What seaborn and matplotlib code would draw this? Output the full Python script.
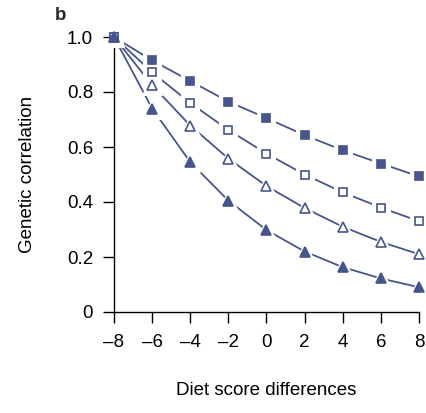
import matplotlib
matplotlib.use("Agg")
import matplotlib.pyplot as plt
import seaborn as sns
import pandas as pd

sns.set_style("ticks")
plt.rcParams['font.family'] = ['Liberation Sans', 'DejaVu Sans']
plt.rcParams.update({
    'xtick.color': 'black', 'ytick.color': 'black',
    'xtick.labelcolor': 'black', 'ytick.labelcolor': 'black',
    'xtick.labelsize': 13.5, 'ytick.labelsize': 13.5,
    'axes.edgecolor': 'black', 'axes.linewidth': 1.0,
    'axes.labelcolor': 'black',
})

x_vals = [-8, -6, -4, -2, 0, 2, 4, 6, 8]
filled_square = [1.0, 0.915, 0.84, 0.765, 0.705, 0.643, 0.588, 0.540, 0.493]
open_square = [1.0, 0.872, 0.760, 0.662, 0.576, 0.500, 0.435, 0.380, 0.330]
open_triangle = [1.0, 0.825, 0.678, 0.558, 0.458, 0.378, 0.310, 0.255, 0.210]
filled_triangle = [1.0, 0.740, 0.545, 0.405, 0.298, 0.220, 0.163, 0.122, 0.090]

yticks = [0, 0.2, 0.4, 0.6, 0.8, 1.0]
ytick_labels = ["0", "0.2", "0.4", "0.6", "0.8", "1.0"]
xtick_labels = ["\u20138", "\u20136", "\u20134", "\u20132", "0", "2", "4", "6", "8"]

color = "#46558c"
series = [
    (filled_square, "s", color, 5.6),
    (open_square, "s", "white", 6.0),
    (open_triangle, "^", "white", 7.2),
    (filled_triangle, "^", color, 7.0),
]

DPI = 100
fig = plt.figure(figsize=(4.27, 4.13), dpi=DPI)
ax = fig.add_axes([114/427, 1-312/413, (419-114)/427, (312-37)/413])

for vals, mk, fc, ms in series:
    df = pd.DataFrame({"x": x_vals, "y": vals})
    sns.lineplot(data=df, x="x", y="y", ax=ax, color=color, lw=1.3, zorder=2, clip_on=False)
    sns.lineplot(data=df, x="x", y="y", ax=ax, linestyle="", marker=mk, markersize=ms + 7,
                 markerfacecolor="white", markeredgecolor="white", color="white",
                 zorder=3, clip_on=False)
for vals, mk, fc, ms in series:
    df = pd.DataFrame({"x": x_vals, "y": vals})
    sns.lineplot(data=df, x="x", y="y", ax=ax, linestyle="", marker=mk, markersize=ms,
                 markerfacecolor=fc, markeredgecolor=color, markeredgewidth=1.2, color=color,
                 zorder=4, clip_on=False)

ax.set_xlim(-8, 8)
ax.set_ylim(0, 1.0)
ax.set_xticks(x_vals)
ax.set_xticklabels(xtick_labels)
ax.set_yticks(yticks)
ax.set_yticklabels(ytick_labels)
ax.spines['top'].set_visible(False)
ax.spines['right'].set_visible(False)

# tick marks drawn as short segments along each axis (8 pt long, outward)
tick_len_pt = 8
tick_px = tick_len_pt * DPI / 72
pos = ax.get_position()
ax_w_px = pos.width * fig.get_figwidth() * DPI
ax_h_px = pos.height * fig.get_figheight() * DPI
ax.tick_params(axis='both', which='major', length=0)
ax.tick_params(axis='y', pad=7 + tick_len_pt)
ax.tick_params(axis='x', pad=8 + tick_len_pt)
for v in yticks:
    ax.plot([-tick_px / ax_w_px, 0], [v, v], transform=ax.get_yaxis_transform(),
            color='black', lw=1.0, solid_capstyle='butt', clip_on=False, zorder=3.5)
for v in x_vals:
    ax.plot([v, v], [-tick_px / ax_h_px, 0], transform=ax.get_xaxis_transform(),
            color='black', lw=1.0, solid_capstyle='butt', clip_on=False, zorder=3.5)
ax.set_xlim(-8, 8)
ax.set_ylim(0, 1.0)

ax.set_xlabel("Diet score differences", fontsize=13.5, labelpad=22, color='black')
ax.set_ylabel("Genetic correlation", fontsize=13.5, labelpad=22, color='black')
fig.text(55/427, 1-16/413, "b", fontsize=13.5, fontweight="bold", ha="left", va="center")

fig.savefig("out.png", dpi=DPI)
